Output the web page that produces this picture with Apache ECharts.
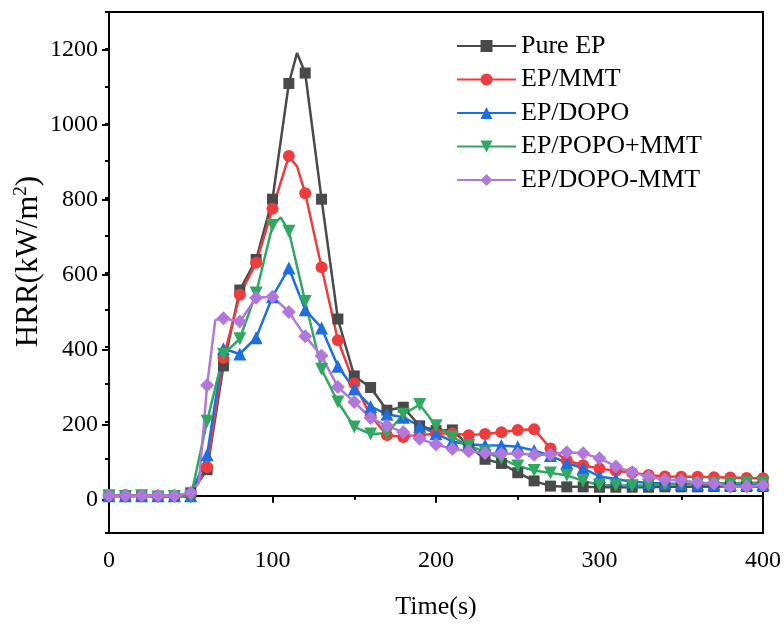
<!DOCTYPE html>
<html>
<head>
<meta charset="utf-8">
<script src="https://cdn.jsdelivr.net/npm/echarts@6/dist/echarts.min.js"></script>
<style>
  html, body { margin: 0; padding: 0; background: #ffffff; }
  #chart { width: 784px; height: 625px; }
</style>
</head>
<body>
<div id="chart"></div>
<script>
// Heat release rate curves (cone calorimeter), sampled every 10 s
const times = [0, 10, 20, 30, 40, 50, 60, 70, 80, 90, 100, 110, 120, 130, 140, 150, 160, 170, 180, 190, 200,
  210, 220, 230, 240, 250, 260, 270, 280, 290, 300, 310, 320, 330, 340, 350, 360, 370, 380, 390, 400];

const pureEP = [0, -2, 0, -2, -2, 8, 70, 349, 553, 635, 797, 1108, 1136, 797, 475, 322, 291, 230, 238, 188, 175,
  177, 135, 98, 87, 62, 40, 26, 24, 24, 23, 23, 23, 23, 24, 24, 24, 25, 25, 25, 25];
const epMMT = [0, 2, 0, 0, 0, 5, 77, 370, 540, 626, 771, 913, 813, 614, 418, 302, 215, 163, 158, 163, 167,
  168, 163, 166, 171, 177, 179, 127, 95, 82, 73, 67, 62, 56, 52, 51, 51, 50, 49, 48, 47];
const epDOPO = [0, 0, 0, 0, 0, 0, 110, 395, 381, 425, 535, 612, 500, 451, 348, 287, 240, 219, 211, 187, 167,
  146, 138, 136, 135, 132, 122, 108, 88, 74, 52, 45, 38, 35, 33, 32, 31, 30, 30, 30, 30];
const epPOPOMMT = [0, -2, 0, -3, -2, -3, 200, 380, 422, 545, 726, 711, 522, 340, 252, 185, 166, 168, 219, 245, 188,
  158, 135, 118, 100, 80, 68, 61, 55, 40, 29, 28, 27, 28, 30, 32, 33, 34, 34, 35, 35];
const epDOPOMMT = [0, 0, 0, 0, 0, 8, 297, 477, 468, 532, 535, 494, 429, 376, 292, 252, 209, 188, 171, 153, 138,
  126, 120, 115, 113, 113, 110, 110, 117, 114, 101, 79, 63, 52, 43, 41, 36, 33, 24, 25, 28];

// Intermediate 5 s readings that carry no marker
const pureEPExtra = [[115, 1190]];
const epMMTExtra = [[115, 885]];
const epDOPOExtra = [];
const epPOPOMMTExtra = [[105, 748]];
const epDOPOMMTExtra = [[55, 35], [65, 472]];

const seriesNames = ['Pure EP', 'EP/MMT', 'EP/DOPO', 'EP/POPO+MMT', 'EP/DOPO-MMT'];
const xTicks = [0, 100, 200, 300, 400];
const yTicks = [0, 200, 400, 600, 800, 1000, 1200];

const FONT = '"Liberation Serif", "Times New Roman", serif';

function buildData(values, extra) {
  const pts = times.map((t, i) => ({ value: [t, values[i]] }));
  extra.forEach(([t, v]) => pts.push({ value: [t, v], symbol: 'none' }));
  pts.sort((a, b) => a.value[0] - b.value[0]);
  return pts;
}

const styles = [
  { color: '#4a4a4a', symbol: 'rect', size: 11, rotate: 0 },
  { color: '#ef3b3b', symbol: 'circle', size: 12, rotate: 0 },
  { color: '#1b6fe0', symbol: 'triangle', size: 13, rotate: 0 },
  { color: '#2fa860', symbol: 'triangle', size: 13, rotate: 180 },
  { color: '#b277dd', symbol: 'diamond', size: 14, rotate: 0 }
];
const valueSets = [
  [pureEP, pureEPExtra],
  [epMMT, epMMTExtra],
  [epDOPO, epDOPOExtra],
  [epPOPOMMT, epPOPOMMTExtra],
  [epDOPOMMT, epDOPOMMTExtra]
];

const series = seriesNames.map((name, i) => ({
  name: name,
  type: 'line',
  xAxisIndex: 0,
  yAxisIndex: 0,
  data: buildData(valueSets[i][0], valueSets[i][1]),
  symbol: styles[i].symbol,
  symbolSize: styles[i].size,
  symbolRotate: styles[i].rotate,
  showAllSymbol: true,
  color: styles[i].color,
  lineStyle: { width: 2.5, color: styles[i].color },
  itemStyle: { color: styles[i].color },
  emphasis: { disabled: true },
  animation: false
}));

const chart = echarts.init(document.getElementById('chart'), null, { renderer: 'canvas' });

chart.setOption({
  backgroundColor: '#ffffff',
  animation: false,
  grid: [
    // plotting area with frame
    { left: 109, right: 21, top: 12, bottom: 88, show: true, borderColor: '#000', borderWidth: 2, backgroundColor: 'transparent' },
    // helper grid spanning 0..1200 for the labelled major ticks
    { left: 109, right: 21, top: 49.5, bottom: 125.5, show: false }
  ],
  xAxis: [
    {
      gridIndex: 0, type: 'value', min: xTicks[0], max: xTicks[xTicks.length - 1], interval: 100,
      name: 'Time(s)', nameLocation: 'middle', nameGap: 61, nameMoveOverlap: false,
      nameTextStyle: { fontFamily: FONT, fontSize: 26, color: '#000' },
      axisLine: { show: true, lineStyle: { color: '#000', width: 2 } },
      axisTick: { show: true, inside: false, length: 7, lineStyle: { color: '#000', width: 2 } },
      minorTick: { show: true, splitNumber: 2, length: 4, lineStyle: { color: '#000', width: 2 } },
      axisLabel: { fontFamily: FONT, fontSize: 24, color: '#000', margin: 16, formatter: v => String(v) },
      splitLine: { show: false }
    },
    {
      gridIndex: 1, type: 'value', min: 0, max: 400, show: false
    }
  ],
  yAxis: [
    {
      gridIndex: 0, type: 'value', min: -100, max: 1300, interval: 100,
      axisLine: { show: true, lineStyle: { color: '#000', width: 2 } },
      axisTick: { show: true, inside: false, length: 4, lineStyle: { color: '#000', width: 2 } },
      axisLabel: { show: false },
      splitLine: { show: false }
    },
    {
      gridIndex: 1, type: 'value', min: yTicks[0], max: yTicks[yTicks.length - 1], interval: 200,
      name: '{a|HRR(kW/m}{s|2}{b|)}', nameLocation: 'middle', nameGap: 63, nameRotate: 90,
      nameMoveOverlap: false,
      nameTextStyle: {
        rich: {
          a: { fontFamily: FONT, fontSize: 31, color: '#000', lineHeight: 34, padding: [0, 0, 0, 26] },
          b: { fontFamily: FONT, fontSize: 31, color: '#000', lineHeight: 34 },
          s: { fontFamily: FONT, fontSize: 19, color: '#000', lineHeight: 34, verticalAlign: 'top', padding: [0, 0, 15, 0] }
        }
      },
      axisLine: { show: false },
      axisTick: { show: true, inside: false, length: 7, lineStyle: { color: '#000', width: 2 } },
      axisLabel: { fontFamily: FONT, fontSize: 24, color: '#000', margin: 11, formatter: v => String(v) },
      splitLine: { show: false }
    }
  ],
  legend: {
    orient: 'vertical',
    left: 451,
    top: 28,
    itemWidth: 59,
    itemHeight: 15,
    itemGap: 7.5,
    textStyle: { fontFamily: FONT, fontSize: 26, color: '#000' },
    data: seriesNames
  },
  series: series
});
</script>
</body>
</html>
